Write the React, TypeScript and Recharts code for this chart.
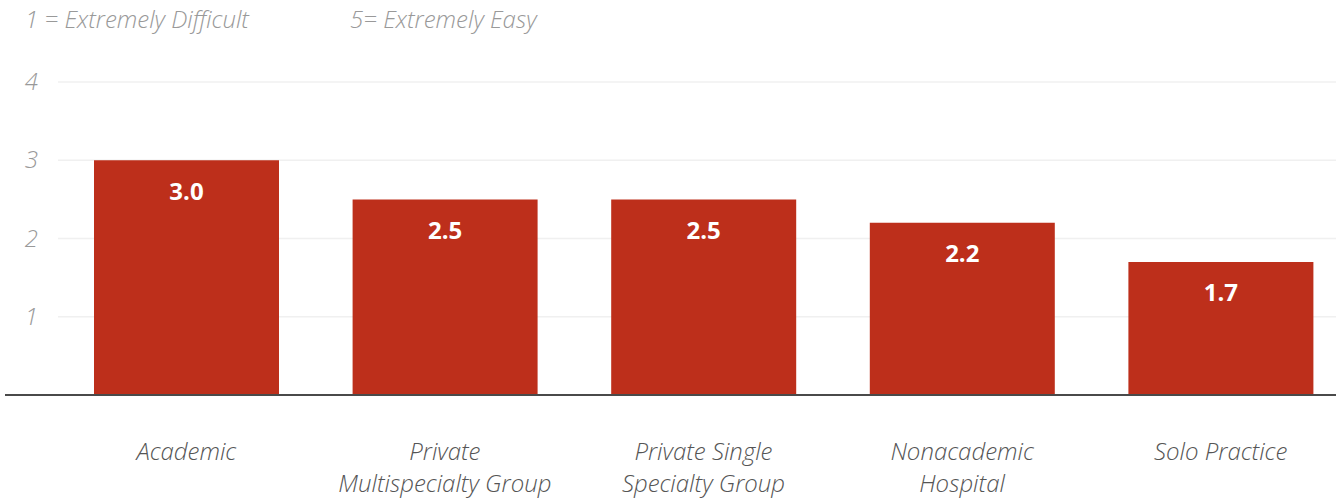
import { BarChart, Bar, XAxis, YAxis, CartesianGrid, LabelList } from "recharts";

const categories = [
  "Academic",
  "Private\nMultispecialty Group",
  "Private Single\nSpecialty Group",
  "Nonacademic\nHospital",
  "Solo Practice",
];
const scores = [3.0, 2.5, 2.5, 2.2, 1.7];
const yTicks = [0, 1, 2, 3, 4];
const scaleNotes = ["1 = Extremely Difficult", "5= Extremely Easy"];

const data = categories.map((name, i) => ({ name, score: scores[i] }));

const FONT = "'Open Sans', Lato, sans-serif";

function CategoryTick(props: any) {
  const { x, y, payload } = props;
  const lines = String(payload.value).split("\n");
  return (
    <text
      x={x}
      y={y + 57}
      textAnchor="middle"
      fill="#555"
      fontSize={24}
      fontStyle="italic"
      fontWeight={300}
      fontFamily={FONT}
    >
      {lines.map((l, i) => (
        <tspan key={i} x={x} dy={i === 0 ? 0 : 32}>
          {l}
        </tspan>
      ))}
    </text>
  );
}

function ValueTick(props: any) {
  const { y, payload } = props;
  if (payload.value === 0) return null;
  return (
    <text
      x={38}
      y={y}
      dy={8}
      textAnchor="end"
      fill="#999"
      fontSize={24}
      fontStyle="italic"
      fontWeight={300}
      fontFamily={FONT}
    >
      {payload.value}
    </text>
  );
}

function GridLine(props: any) {
  const { y1, y2, x2 } = props;
  return <line x1={58} x2={x2} y1={y1} y2={y2} stroke="#f0f0f0" strokeWidth={1.5} />;
}

function ValueLabel(props: any) {
  const { x, y, width, value } = props;
  return (
    <text
      x={x + width / 2}
      y={y + 30}
      dominantBaseline="central"
      textAnchor="middle"
      fill="#fff"
      fontSize={24}
      fontWeight={700}
      fontFamily={FONT}
    >
      {Number(value).toFixed(1)}
    </text>
  );
}

const noteStyle = {
  position: "absolute" as const,
  top: 2,
  fontFamily: FONT,
  fontStyle: "italic",
  fontWeight: 300,
  fontSize: 24,
  color: "#999",
  whiteSpace: "nowrap" as const,
};

export default function App() {
  return (
    <div
      style={{
        position: "absolute",
        left: 0,
        top: 0,
        width: 1336,
        height: 500,
        overflow: "hidden",
        background: "#fff",
      }}
    >
      <div style={{ ...noteStyle, left: 25 }}>{scaleNotes[0]}</div>
      <div style={{ ...noteStyle, left: 350 }}>{scaleNotes[1]}</div>
      <BarChart
        width={1350}
        height={500}
        data={data}
        margin={{ top: 82, right: 0, bottom: 0, left: 0 }}
        barCategoryGap={37}
      >
        <CartesianGrid vertical={false} horizontal={<GridLine />} />
        <XAxis
          dataKey="name"
          interval={0}
          height={105}
          padding={{ left: 52, right: 0 }}
          tickLine={false}
          axisLine={{ stroke: "#4a4a4a", strokeWidth: 2 }}
          tick={<CategoryTick />}
        />
        <YAxis
          width={5}
          domain={[0, 4]}
          ticks={yTicks}
          axisLine={false}
          tickLine={false}
          tick={<ValueTick />}
        />
        <Bar dataKey="score" fill="#bd2f1b" isAnimationActive={false}>
          <LabelList dataKey="score" content={<ValueLabel />} />
        </Bar>
      </BarChart>
    </div>
  );
}
